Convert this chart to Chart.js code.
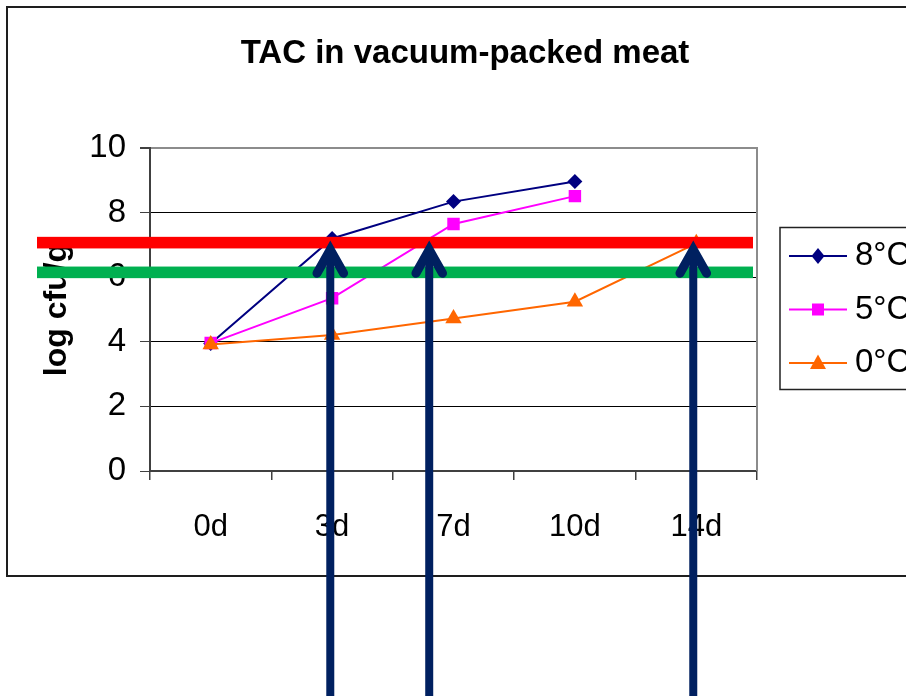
<!DOCTYPE html>
<html>
<head>
<meta charset="utf-8">
<title>TAC in vacuum-packed meat</title>
<script src="https://cdn.jsdelivr.net/npm/chart.js@4.4.1/dist/chart.umd.min.js"></script>
<style>
  html, body { margin: 0; padding: 0; background: #fff; overflow: hidden; }
  #wrap { width: 906px; height: 696px; position: relative; }
  canvas { display: block; }
</style>
</head>
<body>
<div id="wrap"><canvas id="chart" width="906" height="696"></canvas></div>
<script>
// Storage days and total aerobic count (log cfu/g) per storage temperature
const days = ['0d', '3d', '7d', '10d', '14d'];
const temp8 = [3.95, 7.2, 8.34, 8.96, null];
const temp5 = [3.96, 5.35, 7.65, 8.51, null];
const temp0 = [3.92, 4.21, 4.72, 5.24, 7.05];
const seriesNames = ['8°C', '5°C', '0°C'];
const yTicks = [0, 2, 4, 6, 8, 10];

// Limit bands and the shelf-life arrows (arrow positions in day-category units)
const upperLimit = 7.07;
const lowerLimit = 6.15;
const arrowPositions = [0.985, 1.8, 3.975];
const arrowTip = 6.85;

const FONT = "'Liberation Sans', Arial, sans-serif";
const NAVY = '#000080', MAGENTA = '#ff00ff', ORANGE = '#ff6600';

// Legend sample: short line with the series marker in its middle
function legendIcon(color, shape) {
  const c = document.createElement('canvas');
  c.width = 78; c.height = 24;
  const g = c.getContext('2d');
  g.strokeStyle = color; g.lineWidth = 2;
  g.beginPath(); g.moveTo(20, 12); g.lineTo(78, 12); g.stroke();
  g.fillStyle = color;
  const cx = 49, cy = 12;
  g.beginPath();
  if (shape === 'rectRot') {
    g.moveTo(cx, cy - 8); g.lineTo(cx + 6.5, cy); g.lineTo(cx, cy + 8); g.lineTo(cx - 6.5, cy);
  } else if (shape === 'rect') {
    g.rect(cx - 6, cy - 6, 12, 12);
  } else {
    g.moveTo(cx, cy - 8.5); g.lineTo(cx + 8, cy + 6); g.lineTo(cx - 8, cy + 6);
  }
  g.closePath(); g.fill();
  return c;
}
const icons = [legendIcon(NAVY, 'rectRot'), legendIcon(MAGENTA, 'rect'), legendIcon(ORANGE, 'triangle')];

const overlays = {
  id: 'overlays',
  beforeDraw(chart) {
    const ctx = chart.ctx;
    ctx.save();
    ctx.strokeStyle = '#1e1e1e';
    ctx.lineWidth = 2;
    ctx.strokeRect(7, 7, chart.width + 40, 569);
    ctx.restore();
  },
  beforeDatasetsDraw(chart) {
    const {ctx, chartArea: a} = chart;
    ctx.save();
    ctx.strokeStyle = '#8c8c8c';
    ctx.lineWidth = 2;
    ctx.beginPath();
    ctx.moveTo(a.right, a.top - 1);
    ctx.lineTo(a.right, a.bottom);
    ctx.stroke();
    ctx.restore();
  },
  afterDatasetsDraw(chart) {
    const {ctx, chartArea: a} = chart;
    const xs = chart.scales.x, ys = chart.scales.y;
    ctx.save();
    // limit bands
    [[upperLimit, '#ff0000'], [lowerLimit, '#00b050']].forEach(([v, c]) => {
      const py = ys.getPixelForValue(v);
      ctx.fillStyle = c;
      ctx.fillRect(a.left - 113, py - 5.8, (a.right - 4) - (a.left - 113), 11.6);
    });
    // arrows
    ctx.strokeStyle = '#002060';
    arrowPositions.forEach(p => {
      const px = xs.getPixelForValue(p);
      const tip = ys.getPixelForValue(arrowTip);
      ctx.lineCap = 'butt';
      ctx.lineWidth = 8;
      ctx.beginPath();
      ctx.moveTo(px, chart.height + 10);
      ctx.lineTo(px, tip + 3);
      ctx.stroke();
      ctx.lineWidth = 9;
      ctx.lineJoin = 'miter';
      ctx.lineCap = 'round';
      ctx.beginPath();
      ctx.moveTo(px - 13.3, tip + 23.5);
      ctx.lineTo(px, tip);
      ctx.lineTo(px + 13.3, tip + 23.5);
      ctx.stroke();
    });
    ctx.restore();
  },
  afterDraw(chart) {
    const ctx = chart.ctx;
    const lg = chart.legend;
    const hb = lg.legendHitBoxes;
    if (!hb || !hb.length) return;
    const last = hb[hb.length - 1];
    const top = hb[0].top - 12;
    const bottom = last.top + last.height + 10;
    const left = lg.left + 23;
    ctx.save();
    ctx.strokeStyle = '#222';
    ctx.lineWidth = 1.5;
    ctx.strokeRect(left, top, chart.width + 40 - left, bottom - top);
    ctx.restore();
  }
};

// Later series are painted on top, so they get a lower draw order
const mkSet = (label, data, color, style, radius, order) => ({
  label, data, order,
  borderColor: color, backgroundColor: color,
  borderWidth: 2,
  pointStyle: style, pointRadius: radius, pointBorderWidth: 0,
  pointBackgroundColor: color,
  fill: false, tension: 0
});

new Chart(document.getElementById('chart'), {
  type: 'line',
  data: {
    labels: days,
    datasets: [
      mkSet(seriesNames[0], temp8, NAVY, 'rectRot', 7.5, 2),
      mkSet(seriesNames[1], temp5, MAGENTA, 'rect', 8.8, 1),
      mkSet(seriesNames[2], temp0, ORANGE, 'triangle', 9.5, 0)
    ]
  },
  options: {
    responsive: false,
    devicePixelRatio: 1,
    animation: false,
    events: [],
    layout: { padding: { left: 24, right: 0, top: 0, bottom: 0 } },
    plugins: {
      tooltip: { enabled: false },
      title: {
        display: true,
        text: 'TAC in vacuum-packed meat',
        color: '#000',
        font: { family: FONT, size: 33, weight: 'bold' },
        padding: { top: 33.8, bottom: 74.6 }
      },
      legend: {
        position: 'right',
        align: 'center',
        fullSize: false,
        maxWidth: 149,
        labels: {
          usePointStyle: true,
          pointStyleWidth: 61,
          padding: 20.5,
          color: '#000',
          font: { family: FONT, size: 33 },
          generateLabels(chart) {
            const items = Chart.defaults.plugins.legend.labels.generateLabels(chart);
            items.sort((a, b) => a.datasetIndex - b.datasetIndex);
            items.forEach(it => { it.pointStyle = icons[it.datasetIndex]; it.lineWidth = 0; });
            return items;
          }
        }
      }
    },
    scales: {
      x: {
        offset: true,
        grid: {
          display: true, offset: true, drawOnChartArea: false,
          drawTicks: true, tickLength: 9, color: '#404040', lineWidth: 1.5
        },
        border: { display: true, color: '#404040', width: 2 },
        ticks: {
          color: '#000', font: { family: FONT, size: 31 },
          padding: 29, maxRotation: 0, autoSkip: false
        },
        afterFit(s) { s.height = 225; }
      },
      y: {
        min: 0, max: 10,
        afterBuildTicks(s) { s.ticks = yTicks.map(v => ({ value: v })); },
        grid: {
          color: c => (c.tick && c.tick.value === 10 ? '#8c8c8c' : '#000'),
          lineWidth: c => (c.tick && c.tick.value === 10 ? 2 : 1),
          tickColor: '#404040', tickLength: 10, drawTicks: true
        },
        border: { display: true, color: '#404040', width: 2 },
        ticks: { color: '#000', font: { family: FONT, size: 33 }, padding: 14 },
        title: {
          display: true, text: 'log cfu/g', color: '#000',
          font: { family: FONT, size: 32, weight: 'bold' },
          padding: { top: 14, bottom: 0 }
        },
        afterFit(s) { s.width = 126; }
      }
    }
  },
  plugins: [overlays]
});
</script>
</body>
</html>
